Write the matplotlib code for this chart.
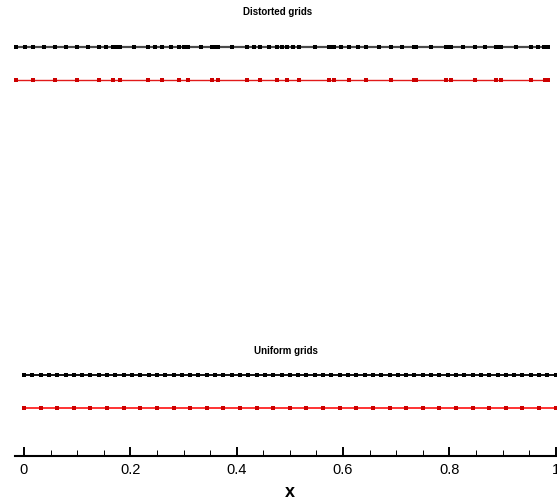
import matplotlib
matplotlib.use("Agg")
import matplotlib.pyplot as plt
from matplotlib.ticker import MultipleLocator

plt.rcParams['font.family'] = ['Liberation Sans', 'DejaVu Sans']

# distorted grid nodes (fine / coarse)
distorted_fine = [-0.0156, 0.0013, 0.0164, 0.0371, 0.0583, 0.0790, 0.0997, 0.1204,
                  0.1411, 0.1542, 0.1674, 0.1740, 0.1815, 0.2069, 0.2332, 0.2464,
                  0.2595, 0.2765, 0.2915, 0.3000, 0.3084, 0.3329, 0.3545, 0.3602,
                  0.3658, 0.3906, 0.4194, 0.4320, 0.4439, 0.4602, 0.4764, 0.4843,
                  0.4946, 0.5059, 0.5172, 0.5467, 0.5736, 0.5783, 0.5830, 0.5962,
                  0.6112, 0.6282, 0.6432, 0.6671, 0.6897, 0.7104, 0.7326, 0.7373,
                  0.7649, 0.7937, 0.7984, 0.8031, 0.8257, 0.8477, 0.8670, 0.8868,
                  0.8915, 0.8962, 0.9253, 0.9530, 0.9667, 0.9780, 0.9817, 0.9855]
distorted_coarse = [-0.0156, 0.0164, 0.0583, 0.0997, 0.1411, 0.1674, 0.1815, 0.2332,
                    0.2595, 0.2915, 0.3084, 0.3545, 0.3658, 0.4194, 0.4439, 0.4764,
                    0.4946, 0.5172, 0.5736, 0.5830, 0.6112, 0.6432, 0.6897, 0.7326,
                    0.7373, 0.7937, 0.8031, 0.8477, 0.8868, 0.8962, 0.9530, 0.9799,
                    0.9855]

# uniform grid nodes
uniform_fine = [0, .015625, .03125, .046875, .0625, .078125, .09375, .109375, .125,
                .140625, .15625, .171875, .1875, .203125, .21875, .234375, .25,
                .265625, .28125, .296875, .3125, .328125, .34375, .359375, .375,
                .390625, .40625, .421875, .4375, .453125, .46875, .484375, .5,
                .515625, .53125, .546875, .5625, .578125, .59375, .609375, .625,
                .640625, .65625, .671875, .6875, .703125, .71875, .734375, .75,
                .765625, .78125, .796875, .8125, .828125, .84375, .859375, .875,
                .890625, .90625, .921875, .9375, .953125, .96875, .984375, 1.0]
uniform_coarse = uniform_fine[::2]

xticks = [0, 0.2, 0.4, 0.6, 0.8, 1.0]
xticklabels = ["0", "0.2", "0.4", "0.6", "0.8", "1"]

fig = plt.figure(figsize=(5.57, 5.04), dpi=100)
ax = fig.add_axes([15 / 557, 48 / 504, 542 / 557, 456 / 504])
ax.set_xlim(-0.0169, 1.0024)
ax.set_ylim(0, 1)

red_line = "#e21a1a"
red_mark = "#cc0000"

ax.plot(distorted_fine, [0.8976] * len(distorted_fine), color="#4a4a4a", lw=1.6,
        marker="s", ms=3.1, mfc="k", mec="k", mew=0, clip_on=False)
ax.plot(distorted_coarse, [0.8252] * len(distorted_coarse), color=red_line, lw=1.0,
        marker="s", ms=3.2, mfc=red_mark, mec=red_mark, mew=0, clip_on=False)
ax.plot(uniform_fine, [0.1776] * len(uniform_fine), color="k", lw=1.3,
        marker="s", ms=3.1, mfc="k", mec="k", mew=0, clip_on=False)
ax.plot(uniform_coarse, [0.1053] * len(uniform_coarse), color="#ff1010", lw=1.2,
        marker="s", ms=3.2, mfc=red_mark, mec=red_mark, mew=0, clip_on=False)

ax.text(0.4777, 0.9737, "Distorted grids", ha="center", va="center",
        fontsize=7, fontweight="bold")
ax.text(0.4928, 0.2303, "Uniform grids", ha="center", va="center",
        fontsize=7, fontweight="bold")

for s in ["top", "left", "right"]:
    ax.spines[s].set_visible(False)
ax.spines["bottom"].set_linewidth(1.5)
ax.set_yticks([])
ax.set_xticks(xticks)
ax.set_xticklabels(xticklabels)
ax.xaxis.set_minor_locator(MultipleLocator(0.05))
ax.tick_params(axis="x", which="major", direction="in", length=6.8, width=1.4,
               labelsize=10.5, pad=5)
ax.tick_params(axis="x", which="minor", direction="in", length=4.3, width=0.7)

ax.text(0.5, -0.079, "x", transform=ax.get_xaxis_transform(), ha="center",
        va="center", fontsize=13, fontweight="bold")

fig.savefig("out.png", dpi=100)
